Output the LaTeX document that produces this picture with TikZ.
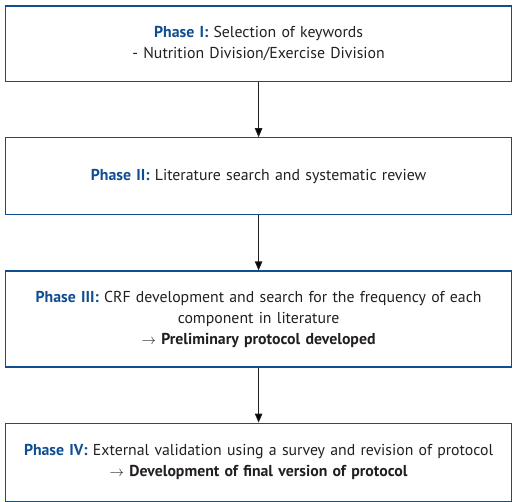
\documentclass[tikz,border=0pt]{standalone}
\usepackage{fontspec}
\setmainfont{PT Sans}
\usepackage{tikz}
\usetikzlibrary{arrows.meta,positioning}
\definecolor{phaseblue}{RGB}{16,78,145}
\definecolor{textdark}{RGB}{35,31,32}
\tikzset{phasebox/.style={rectangle,draw=phaseblue,line width=1.2pt,minimum width=506pt,text width=500pt,align=center,font=\fontsize{15.8}{21}\selectfont,text=textdark,inner sep=0pt}}
\newcommand{\phaselbl}[1]{{\color{phaseblue}\bfseries #1}}

\begin{document}
\begin{tikzpicture}[x=1pt,y=1pt,node distance=55pt]
  \useasboundingbox (0,0) rectangle (519,-502);

  \node (ph1) [phasebox,minimum height=75.5pt,anchor=north] at (258.6,-5.5) {\phaselbl{Phase I:} Selection of keywords\\- Nutrition Division/Exercise Division};
  \node (ph2) [phasebox,minimum height=77pt,below=of ph1] {\phaselbl{Phase II:} Literature search and systematic review};
  \node (ph3) [phasebox,minimum height=96pt,below=of ph2] {\phaselbl{Phase III:} CRF development and search for the frequency of each\\component in literature\\\textbf{$\rightarrow$ Preliminary protocol developed}};
  \node (ph4) [phasebox,minimum height=78pt,below=of ph3] {\phaselbl{Phase IV:} External validation using a survey and revision of protocol\\\textbf{$\rightarrow$ Development of final version of protocol}};

  \path[-{Triangle[width=7.5pt,length=9pt]},draw=textdark,line width=0.9pt]
    (ph1) edge (ph2)
    (ph2) edge (ph3)
    (ph3) edge (ph4);

\end{tikzpicture}
\end{document}
